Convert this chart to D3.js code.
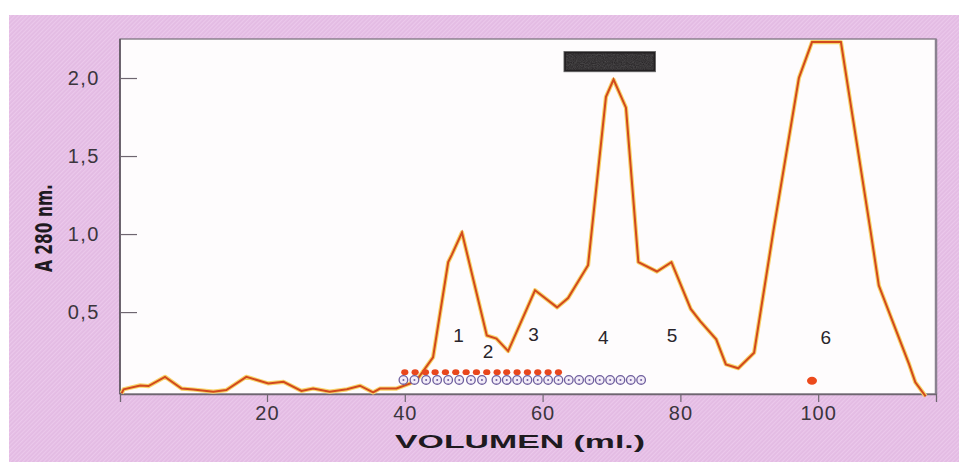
<!DOCTYPE html>
<html>
<head>
<meta charset="utf-8">
<script src="https://cdn.jsdelivr.net/npm/d3@7"></script>
<style>
  body { margin: 0; background: #fff; }
  svg { display: block; }
</style>
</head>
<body>
<script>

// elution profile, volume (ml) and absorbance at 280 nm
var volume = [-1.1, -0.8, 1.6, 2.8, 5.2, 7.6, 9.3, 12.2, 14.1, 17.0, 20.2, 22.4, 25.0, 26.7, 29.1,
  31.6, 33.5, 35.4, 36.4, 38.8, 40.8, 42.0, 44.1, 46.3, 46.8, 48.3, 51.9, 53.3, 55.0, 58.9,
  62.1, 63.7, 66.6, 69.2, 70.3, 72.1, 73.9, 76.6, 78.7, 81.5, 82.9, 85.2, 86.6, 88.4, 90.7,
  93.5, 97.2, 99.1, 103.3, 107.6, 108.8, 110.8, 113.2, 114.1, 115.6];
var absorbance = [-0.02, 0.005, 0.03, 0.026, 0.085, 0.01, 0.004, -0.01, 0.0, 0.085, 0.043, 0.053, -0.005, 0.01, -0.01,
  0.005, 0.028, -0.015, 0.01, 0.01, 0.043, 0.08, 0.21, 0.82, 0.865, 1.01, 0.35, 0.33, 0.25, 0.64,
  0.53, 0.59, 0.80, 1.88, 1.99, 1.81, 0.82, 0.76, 0.82, 0.52, 0.44, 0.325, 0.165, 0.14, 0.24,
  1.02, 2.0, 2.23, 2.23, 1.02, 0.67, 0.44, 0.165, 0.05, -0.04];

// fractions marked below the peaks
var redFractions = [40.0, 41.5, 43.0, 44.4, 45.9, 47.4, 48.9, 50.4, 51.9, 53.4, 54.8, 56.3, 57.8, 59.3, 60.8, 62.3];
var openFractions = [39.8, 41.4, 43.1, 44.7, 46.3, 47.9, 49.6, 51.2,
  53.3, 54.8, 56.3, 57.8, 59.3, 60.8, 62.3, 63.8, 65.3, 66.8, 68.3, 69.8, 71.3, 72.8, 74.3];
var singleRed = [99.1];
var redRow = 0.115;
var openRow = 0.065;

// peak numbers
var peakNames = ["1", "2", "3", "4", "5", "6"];
var peakX = [47.8, 52.1, 58.7, 68.8, 78.8, 101.1];
var peakY = [0.35, 0.25, 0.355, 0.34, 0.35, 0.335];

// axis ticks
var xTicks = [20, 40, 60, 80, 100];
var yTicks = [0.5, 1.0, 1.5, 2.0];
var yTickLabels = ["0,5", "1,0", "1,5", "2,0"];

// blacked out box over peak 4 (ml, A)
var boxX = [63.1, 76.4];
var boxY = [2.17, 2.04];

var W = 959, H = 462;
var plot = {left: 120, right: 936, top: 39, bottom: 394};

var svg = d3.select("body").append("svg")
    .attr("width", W)
    .attr("height", H);

var defs = svg.append("defs");
var hatch = defs.append("pattern")
    .attr("id", "hatch")
    .attr("patternUnits", "userSpaceOnUse")
    .attr("width", 3)
    .attr("height", 3)
    .attr("patternTransform", "rotate(45)");
hatch.append("rect").attr("width", 3).attr("height", 3).attr("fill", "#e3bbe3");
hatch.append("rect").attr("width", 1.2).attr("height", 3).attr("fill", "#ebc8eb");

var noise = defs.append("filter").attr("id", "grain");
noise.append("feTurbulence").attr("type", "fractalNoise").attr("baseFrequency", 0.9).attr("numOctaves", 2).attr("result", "n");
noise.append("feColorMatrix").attr("in", "n").attr("type", "saturate").attr("values", 0).attr("result", "g");
noise.append("feComposite").attr("in", "g").attr("in2", "SourceGraphic").attr("operator", "in");

// pink page
svg.append("rect")
    .attr("x", 9).attr("y", 15)
    .attr("width", W - 9).attr("height", H - 15)
    .attr("fill", "url(#hatch)");

// scales
var x = d3.scaleLinear().domain([-1.335, 117.1]).range([plot.left, plot.right]);
var y = d3.scaleLinear().domain([-0.025, 2.25]).range([plot.bottom, plot.top]);

// plot panel
svg.append("rect")
    .attr("x", plot.left).attr("y", plot.top)
    .attr("width", plot.right - plot.left).attr("height", plot.bottom - plot.top)
    .attr("fill", "#fefcfd")
    .attr("stroke", "#7d7580")
    .attr("stroke-width", 1.3);

svg.append("line")
    .attr("x1", plot.left).attr("x2", plot.left)
    .attr("y1", plot.top).attr("y2", plot.bottom)
    .attr("stroke", "#5e5660").attr("stroke-width", 1.6);
svg.append("line")
    .attr("x1", plot.right).attr("x2", plot.right)
    .attr("y1", plot.top).attr("y2", plot.bottom)
    .attr("stroke", "#8a8290").attr("stroke-width", 2.5);

// axes
var xAxis = d3.axisBottom(x).tickValues(xTicks).tickSize(8).tickPadding(4);
var gx = svg.append("g")
    .attr("transform", "translate(0," + plot.bottom + ")")
    .call(xAxis);
gx.select(".domain").attr("stroke", "#6e6670").attr("stroke-width", 1.3);
gx.selectAll(".tick line").attr("stroke", "#6e6670").attr("stroke-width", 1.2);
gx.selectAll(".tick text")
    .attr("fill", "#3b353d")
    .style("font-family", "Liberation Sans, Arial, sans-serif")
    .style("font-size", "20px")
    .style("letter-spacing", "1px");

var yAxis = d3.axisRight(y).tickValues(yTicks).tickSize(17)
    .tickFormat(function(d, i) { return yTickLabels[i]; });
var gy = svg.append("g")
    .attr("transform", "translate(" + plot.left + ",0)")
    .call(yAxis);
gy.select(".domain").remove();
gy.selectAll(".tick line").attr("stroke", "#6e6670").attr("stroke-width", 1.2);
gy.selectAll(".tick text")
    .attr("x", -20)
    .attr("text-anchor", "end")
    .attr("fill", "#3b353d")
    .style("font-family", "Liberation Sans, Arial, sans-serif")
    .style("font-size", "20px")
    .style("letter-spacing", "1.5px");

// axis titles
svg.append("text")
    .attr("x", 395).attr("y", 448)
    .attr("textLength", 250)
    .attr("lengthAdjust", "spacingAndGlyphs")
    .attr("fill", "#1e1a1f")
    .style("font-family", "Liberation Sans, Arial, sans-serif")
    .style("font-weight", "bold")
    .style("font-size", "19px")
    .text("VOLUMEN (ml.)");

svg.append("text")
    .attr("transform", "translate(52,272) rotate(-90)")
    .attr("textLength", 88)
    .attr("lengthAdjust", "spacingAndGlyphs")
    .attr("fill", "#1e1a1f")
    .style("font-family", "Liberation Sans Narrow, DejaVu Sans Condensed, Arial, sans-serif")
    .style("font-weight", "bold")
    .style("font-size", "23px")
    .text("A 280 nm.");

// blacked out box
svg.append("rect")
    .attr("x", x(boxX[0])).attr("y", y(boxY[0]))
    .attr("width", x(boxX[1]) - x(boxX[0]))
    .attr("height", y(boxY[1]) - y(boxY[0]))
    .attr("fill", "#232022")
    .attr("stroke", "#666")
    .attr("stroke-width", 0.8);
svg.append("rect")
    .attr("x", x(boxX[0]) + 2).attr("y", y(boxY[0]) + 2)
    .attr("width", x(boxX[1]) - x(boxX[0]) - 4)
    .attr("height", y(boxY[1]) - y(boxY[0]) - 4)
    .attr("fill", "#888")
    .attr("opacity", 0.3)
    .attr("filter", "url(#grain)");

// profile line: yellow halo under an orange-red trace
var data = volume.map(function(v, i) { return [v, absorbance[i]]; });
var line = d3.line()
    .x(function(d) { return x(d[0]); })
    .y(function(d) { return y(d[1]); });

svg.append("path")
    .datum(data)
    .attr("d", line)
    .attr("fill", "none")
    .attr("stroke", "#f7d36a")
    .attr("stroke-width", 4.2)
    .attr("stroke-linejoin", "round");
svg.append("path")
    .datum(data)
    .attr("d", line)
    .attr("fill", "none")
    .attr("stroke", "#d2491d")
    .attr("stroke-width", 2)
    .attr("stroke-linejoin", "miter");

// fraction markers
svg.selectAll(".open")
    .data(openFractions)
    .enter()
    .append("g")
    .attr("class", "open")
    .attr("transform", function(d) { return "translate(" + x(d) + "," + y(openRow) + ")"; })
    .each(function() {
        d3.select(this).append("circle")
            .attr("r", 4.3)
            .attr("fill", "#f2ecf8")
            .attr("stroke", "#6f5f9e")
            .attr("stroke-width", 1.3);
        d3.select(this).append("circle")
            .attr("r", 1)
            .attr("fill", "#6f5f9e");
    });

svg.selectAll(".red")
    .data(redFractions)
    .enter()
    .append("ellipse")
    .attr("class", "red")
    .attr("cx", function(d) { return x(d); })
    .attr("cy", y(redRow))
    .attr("rx", 3.6)
    .attr("ry", 2.9)
    .attr("fill", "#e8471d");

svg.selectAll(".single")
    .data(singleRed)
    .enter()
    .append("ellipse")
    .attr("class", "single")
    .attr("cx", function(d) { return x(d); })
    .attr("cy", y(openRow - 0.005))
    .attr("rx", 5)
    .attr("ry", 4)
    .attr("fill", "#ec4a1c");

// peak numbers
svg.selectAll(".peak")
    .data(peakNames)
    .enter()
    .append("text")
    .attr("class", "peak")
    .attr("x", function(d, i) { return x(peakX[i]); })
    .attr("y", function(d, i) { return y(peakY[i]); })
    .attr("text-anchor", "middle")
    .attr("dominant-baseline", "central")
    .attr("fill", "#2a252b")
    .style("font-family", "Liberation Sans, Arial, sans-serif")
    .style("font-size", "19px")
    .text(function(d) { return d; });

</script>
</body>
</html>
